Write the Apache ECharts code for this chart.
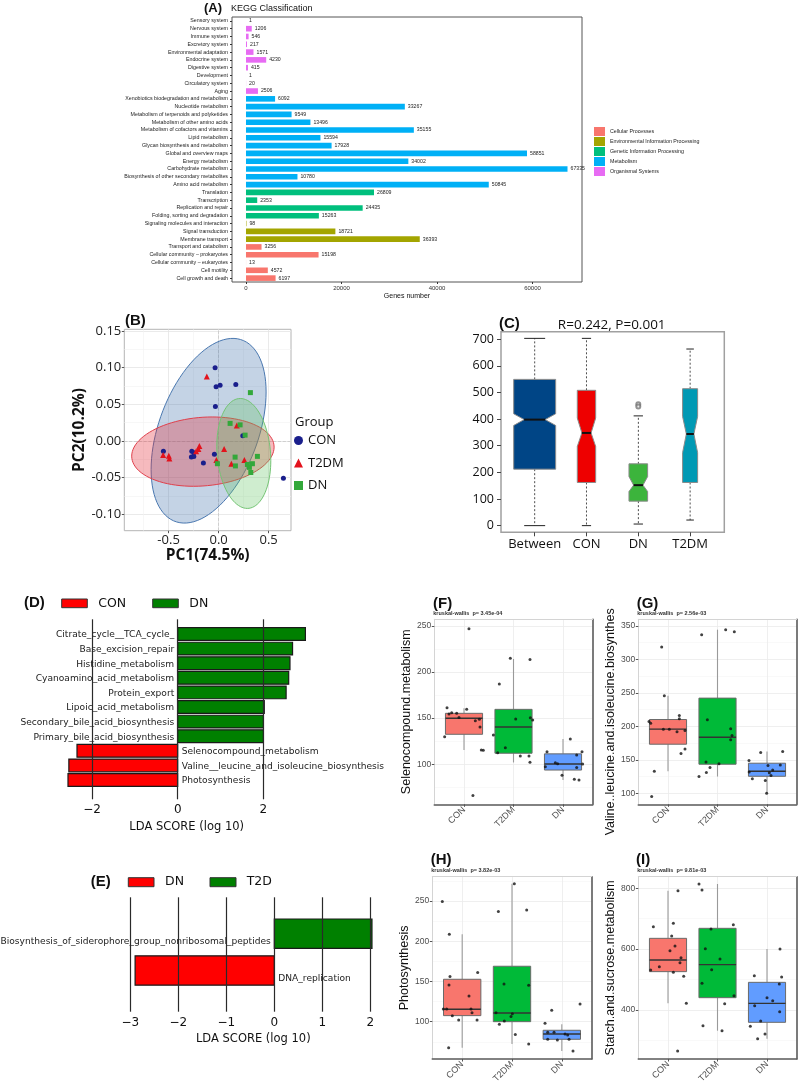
<!DOCTYPE html>
<html><head><meta charset="utf-8">
<script src="https://cdn.jsdelivr.net/npm/echarts@6/dist/echarts.min.js"></script>
<style>html,body{margin:0;padding:0;background:#fff}#chart{width:800px;height:1085px}</style>
</head><body><div id="chart"></div>
<script>
// ======================= DATA =======================
// (A) KEGG classification
const KEGG_CATEGORIES = ['Sensory system','Nervous system','Immune system','Excretory system','Environmental adaptation','Endocrine system','Digestive system','Development','Circulatory system','Aging','Xenobiotics biodegradation and metabolism','Nucleotide metabolism','Metabolism of terpenoids and polyketides','Metabolism of other amino acids','Metabolism of cofactors and vitamins','Lipid metabolism','Glycan biosynthesis and metabolism','Global and overview maps','Energy metabolism','Carbohydrate metabolism','Biosynthesis of other secondary metabolites','Amino acid metabolism','Translation','Transcription','Replication and repair','Folding, sorting and degradation','Signaling molecules and interaction','Signal transduction','Membrane transport','Transport and catabolism','Cellular community \u2013 prokaryotes','Cellular community \u2013 eukaryotes','Cell motility','Cell growth and death'];
const KEGG_VALUES = [1,1206,546,217,1571,4230,415,1,20,2506,6092,33267,9549,13496,35155,15594,17928,58851,34002,67335,10780,50845,26809,2353,24435,15263,98,18721,36393,3256,15198,13,4572,6197];
const KEGG_CLASS = [4,4,4,4,4,4,4,4,4,4,3,3,3,3,3,3,3,3,3,3,3,3,2,2,2,2,1,1,1,0,0,0,0,0];
const KEGG_CLASS_NAMES = ['Cellular Processes','Environmental Information Processing','Genetic Information Processing','Metabolism','Organismal Systems'];
const KEGG_X_TICKS = [0,20000,40000,60000];

// (B) PCoA
const PCA_CON = [[-0.035,0.100],[-0.025,0.074],[0.015,0.076],[0.172,0.077],[-0.032,0.047],[0.242,0.007],[-0.552,-0.014],[-0.268,-0.014],[-0.248,-0.016],[-0.272,-0.022],[-0.248,-0.021],[-0.152,-0.030],[-0.042,-0.018],[0.648,-0.051]];
const PCA_T2DM = [[-0.118,0.088],[-0.555,-0.019],[-0.498,-0.020],[-0.492,-0.024],[-0.192,-0.007],[-0.202,-0.011],[-0.225,-0.014],[0.055,-0.011],[-0.022,-0.026],[0.128,-0.031],[0.258,-0.026],[0.182,0.021]];
const PCA_DN = [[0.318,0.066],[0.115,0.024],[0.215,0.022],[0.265,0.008],[0.165,-0.022],[-0.012,-0.031],[0.168,-0.034],[0.288,-0.032],[0.308,-0.036],[0.338,-0.031],[0.388,-0.021],[0.322,-0.043]];
// ellipse: centre x, centre y, half-extent x, half-extent y, correlation
const PCA_ELLIPSES = [[-0.10,0.014,0.575,0.126,0.42],[-0.157,-0.0145,0.712,0.0473,0.13],[0.252,-0.017,0.270,0.075,-0.13]];
const PCA_X_TICKS = [-0.5,0,0.5];
const PCA_X_MINOR = [-0.75,-0.25,0.25];
const PCA_Y_TICKS = [-0.1,-0.05,0,0.05,0.1,0.15];
const PCA_Y_MINOR = [-0.075,-0.025,0.025,0.075,0.125];

// (C) ANOSIM: low whisker, Q1, median, Q3, high whisker, notch low, notch high
const ANOSIM_GROUPS = ['Between','CON','DN','T2DM'];
const ANOSIM_STATS = [[0,212,398,549,703,376,420],[0,162,348,508,703,297,404],[6,92,152,232,412,128,184],[21,162,344,514,663,274,410]];
const ANOSIM_OUTLIERS = [[3,456],[3,447]];
const ANOSIM_Y_TICKS = [0,100,200,300,400,500,600,700];

// (D) LEfSe CON vs DN
const LDA_D_FEATURES = ['Citrate_cycle__TCA_cycle_','Base_excision_repair','Histidine_metabolism','Cyanoamino_acid_metabolism','Protein_export','Lipoic_acid_metabolism','Secondary_bile_acid_biosynthesis','Primary_bile_acid_biosynthesis','Selenocompound_metabolism','Valine__leucine_and_isoleucine_biosynthesis','Photosynthesis'];
const LDA_D_SCORES = [2.98,2.68,2.62,2.59,2.53,2.02,2.00,2.00,-2.35,-2.54,-2.56];
const LDA_D_TICKS = [-2,0,2];
// (E) LEfSe DN vs T2D
const LDA_E_FEATURES = ['Biosynthesis_of_siderophore_group_nonribosomal_peptides','DNA_replication'];
const LDA_E_SCORES = [2.035,-2.90];
const LDA_E_TICKS = [-3,-2,-1,0,1,2];

// (F)-(I) Kruskal-Wallis boxplots: [low whisker, Q1, median, Q3, high whisker]
const KW_GROUPS = ['CON','T2DM','DN'];
const F_BOX = [[115.5,132.5,149.8,155.2,160.6],[102,112,140.4,159.5,214],[83,93.8,100.3,111.3,127.4]];
const F_PTS_CON = [[1.10,246.8],[0.657,161.3],[0.697,154.4],[0.751,155.9],[0.852,155.2],[0.899,150.8],[1.054,159.5],[1.229,147.2],[1.31,148.7],[1.323,140.4],[1.35,115.5],[1.39,115.1],[0.609,129.9],[1.18,66.1]];
const F_PTS_T2DM = [[1.936,214.7],[2.333,213.6],[1.714,186.9],[1.593,131.7],[1.68,112.6],[1.835,118],[2.044,149],[2.34,150.5],[2.387,148],[2.138,109],[2.313,109],[2.333,102.1]];
const F_PTS_DN = [[2.643,97.4],[3.148,127.4],[2.677,113.7],[2.845,101.8],[2.892,100.7],[2.98,88.1],[3.229,83.7],[3.323,83],[3.384,113.7],[3.276,110],[3.276,96.6],[3.397,100.3]];
const F_Y_TICKS = [100,150,200,250];

const G_BOX = [[132.9,173.3,195.8,210.2,245.7],[125,143.4,183.8,242.2,344.5],[100,125.4,132.9,144.9,162.3]];
const G_PTS_CON = [[0.872,318.5],[0.926,245.7],[0.616,207.2],[0.65,204.7],[0.906,195.8],[1.027,195.8],[1.182,191.8],[1.229,216.2],[1.229,211.2],[1.343,193.8],[1.263,159.3],[1.343,166.3],[0.724,132.9],[0.67,95]];
const G_PTS_T2DM = [[1.68,337],[2.165,344.5],[2.34,341.5],[1.795,209.7],[2.266,196.3],[2.293,186.3],[2.266,179.8],[1.768,146.9],[1.775,130.9],[1.848,138.4],[2.03,144],[1.626,124.9]];
const G_PTS_DN = [[2.636,148.9],[2.872,160.8],[2.64,131.6],[2.704,121.6],[3.02,141.4],[3.047,130.6],[3.115,134.9],[3.081,126.4],[2.966,118.9],[2.993,100],[3.269,142.4],[3.317,162.3]];
const G_Y_TICKS = [100,150,200,250,300,350];

const H_BOX = [[67.7,107.5,115.4,152.7,208.7],[72.3,100,110.8,168.9,271.3],[63.6,78.1,84.7,89.3,96.7]];
const H_PTS_CON = [[0.601,249.3],[0.742,208.7],[0.755,156],[0.735,145.6],[0.621,115.8],[0.689,115.8],[0.802,107.5],[0.93,102.1],[0.728,67.7],[1.137,132],[1.177,115.8],[1.197,111.2],[1.298,102.1],[1.311,161]];
const H_PTS_T2DM = [[1.726,236.9],[2.047,271.3],[2.295,238.9],[1.84,146.9],[2.335,145.2],[1.679,111.2],[2.007,110],[1.98,106.3],[1.746,96.7],[1.846,100.9],[2.067,83.9],[2.335,72.3]];
const H_PTS_DN = [[2.663,98],[2.797,114.1],[2.717,86.8],[2.844,86.8],[2.717,78.1],[2.911,77.3],[3.065,84.7],[3.118,83.5],[3.145,78.1],[3.225,63.6],[3.366,122]];
const H_Y_TICKS = [100,150,200,250];

const I_BOX = [[422,526,564.3,635.5,792],[332,440.5,549,668.4,814],[305.8,359.5,421.9,490.9,600.5]];
const I_PTS_CON = [[0.704,673.9],[1.108,684.8],[1.202,792.2],[1.074,643.2],[1.141,610.3],[1.04,595],[0.65,531.4],[0.825,542.4],[1.263,572],[1.242,555.5],[1.108,523.8],[1.317,510.6],[1.37,421.9],[1.195,265.3]];
const I_PTS_T2DM = [[1.626,814],[1.687,794.3],[1.869,666.2],[1.754,601.5],[1.882,532.5],[1.687,487.6],[2.05,567.6],[2.32,680.4],[2.333,447.1],[2.145,420.8],[1.707,348.5],[2.091,332.1]];
const I_PTS_DN = [[2.744,512.8],[2.663,346.3],[2.751,414.2],[2.811,305.8],[2.872,363.9],[2.96,321.1],[3.0,440.5],[3.115,430.7],[3.249,485.4],[3.256,394.5],[3.296,508.4],[3.263,600.5]];
const I_Y_TICKS = [400,600,800];

// ======================= STYLE =======================
const SANS = 'Liberation Sans';
const OPEN = 'Open Sans';
const DEJA = 'DejaVu Sans';
const KEGG_COLORS = ['#F8766D','#A3A500','#00BF7D','#00B0F6','#E76BF3'];
const PCA_COLORS = ['#1a1f8c','#e3121c','#33a83a'];
const ELL_FILL = ['rgba(60,110,170,0.30)','rgba(228,40,52,0.32)','rgba(95,195,95,0.30)'];
const ELL_STROKE = ['#4a78b0','#e0404c','#74c474'];
const C_COLORS = ['#004586','#ee0000','#3cb43c','#0099b4'];
const C_BOX_W = [0.81,0.355,0.36,0.29];
const KW_COLORS = ['#F8766D','#00BA38','#619CFF'];

const grids = [], xAxes = [], yAxes = [], series = [], graphics = [];
function addGrid(g){ grids.push(Object.assign({containLabel:false, outerBoundsMode:'none'}, g)); return grids.length - 1; }
function txt(t, x, y, font, extra){ graphics.push(Object.assign({type:'text', x:x, y:y, silent:true, style:{text:t, font:font, fill:'#111', align:'left', verticalAlign:'middle', textAlign:'left', textVerticalAlign:'middle'}}, extra||{})); }

// ======================= (A) =======================
const gA = addGrid({left:232, top:17, width:350, height:265, show:true, borderColor:'#555', borderWidth:1, backgroundColor:'transparent'});
const xA = xAxes.length;
xAxes.push({type:'value', gridIndex:gA, min:-2930, max:70370,
  axisLine:{show:false, onZero:false}, splitLine:{show:false},
  axisTick:{show:true, customValues:KEGG_X_TICKS, length:2, lineStyle:{color:'#333'}},
  axisLabel:{customValues:KEGG_X_TICKS, formatter:function(v){return String(v);}, fontSize:6, color:'#333', margin:3, fontFamily:SANS},
  name:'Genes number', nameLocation:'middle', nameGap:11, nameTextStyle:{fontSize:7, color:'#111', fontFamily:SANS}});
const yA = yAxes.length;
yAxes.push({type:'category', gridIndex:gA, data:KEGG_CATEGORIES, inverse:true,
  axisLine:{show:false, onZero:false}, splitLine:{show:false},
  axisTick:{show:true, length:2, alignWithLabel:true, lineStyle:{color:'#333'}},
  axisLabel:{interval:0, fontSize:5.3, color:'#222', margin:4, fontFamily:SANS}});
KEGG_CLASS_NAMES.forEach(function(name, c){
  series.push({type:'bar', name:name, xAxisIndex:xA, yAxisIndex:yA, stack:'kegg', barWidth:'72%',
    itemStyle:{color:KEGG_COLORS[c]},
    label:{show:true, position:'right', distance:3, fontSize:5.2, color:'#222', fontFamily:SANS, formatter:function(p){return p.value==null?'':String(p.value);}},
    data:KEGG_VALUES.map(function(v,i){return KEGG_CLASS[i]===c ? v : null;})});
});
txt('(A)', 204, 8.5, 'bold 13px ' + SANS);
txt('KEGG Classification', 231, 8.5, '9px ' + SANS);

// ======================= (B) =======================
const gB = addGrid({left:124.3, top:329.3, width:166.7, height:201.4, show:true, borderColor:'#b4b4b4', borderWidth:1, backgroundColor:'transparent'});
const xB = xAxes.length;
xAxes.push({type:'value', gridIndex:gB, min:-0.943, max:0.724, position:'bottom',
  axisLine:{show:false, onZero:false},
  axisTick:{show:true, customValues:PCA_X_TICKS, length:2.5, lineStyle:{color:'#555'}},
  axisLabel:{customValues:PCA_X_TICKS, formatter:function(v){return v.toFixed(1);}, fontSize:13, color:'#222', margin:3, fontFamily:OPEN},
  splitLine:{show:true, lineStyle:{color:'#e4e4e4', width:0.8}},
  name:'PC1(74.5%)', nameLocation:'middle', nameGap:16.5, nameTextStyle:{fontSize:15.5, fontWeight:'bold', color:'#111', fontFamily:OPEN}});
xAxes.push({type:'value', gridIndex:gB, min:-0.943, max:0.724, position:'top',
  axisLine:{show:false, onZero:false}, axisTick:{show:false, customValues:PCA_X_MINOR}, axisLabel:{show:false, customValues:PCA_X_MINOR},
  splitLine:{show:true, lineStyle:{color:'#f2f2f2', width:0.6}}});
const yB = yAxes.length;
yAxes.push({type:'value', gridIndex:gB, min:-0.1224, max:0.1524, position:'left',
  axisLine:{show:false, onZero:false},
  axisTick:{show:true, customValues:PCA_Y_TICKS, length:2.5, lineStyle:{color:'#555'}},
  axisLabel:{customValues:PCA_Y_TICKS, formatter:function(v){return v.toFixed(2);}, fontSize:13, color:'#222', margin:3, fontFamily:OPEN},
  splitLine:{show:true, lineStyle:{color:'#e4e4e4', width:0.8}},
  name:'PC2(10.2%)', nameLocation:'middle', nameGap:33, nameTextStyle:{fontSize:15.5, fontWeight:'bold', color:'#111', fontFamily:OPEN}});
yAxes.push({type:'value', gridIndex:gB, min:-0.1224, max:0.1524, position:'right',
  axisLine:{show:false, onZero:false}, axisTick:{show:false, customValues:PCA_Y_MINOR}, axisLabel:{show:false, customValues:PCA_Y_MINOR},
  splitLine:{show:true, lineStyle:{color:'#f2f2f2', width:0.6}}});
series.push({type:'custom', name:'ellipses', xAxisIndex:xB, yAxisIndex:yB, z:2, silent:true,
  data:PCA_ELLIPSES,
  renderItem:function(params, api){
    const cx=api.value(0), cy=api.value(1), rx=api.value(2), ry=api.value(3), rho=api.value(4);
    const s = Math.sqrt(1 - rho*rho), pts = [];
    for (let k = 0; k < 96; k++) {
      const t = k / 96 * 2 * Math.PI;
      pts.push(api.coord([cx + rx*Math.cos(t), cy + ry*(rho*Math.cos(t) + s*Math.sin(t))]));
    }
    return {type:'polygon', shape:{points:pts}, style:{fill:ELL_FILL[params.dataIndex], stroke:ELL_STROKE[params.dataIndex], lineWidth:1}};
  }});
const PCA_SERIES = [['CON',PCA_CON,'circle',5],['T2DM',PCA_T2DM,'triangle',6],['DN',PCA_DN,'rect',5]];
PCA_SERIES.forEach(function(s, i){
  const obj = {type:'scatter', name:s[0], xAxisIndex:xB, yAxisIndex:yB, z:4, symbol:s[2], symbolSize:s[3],
    itemStyle:{color:PCA_COLORS[i], opacity:1}, data:s[1]};
  if (i === 0) obj.markLine = {silent:true, symbol:['none','none'], label:{show:false}, z:1,
    lineStyle:{color:'#c8c8c8', type:'dashed', width:0.8}, data:[{xAxis:0},{yAxis:0}]};
  series.push(obj);
});
txt('(B)', 125, 320.7, 'bold 15px ' + SANS);
txt('Group', 295, 422.7, '13px ' + OPEN);

// ======================= (C) =======================
const gC = addGrid({left:501, top:331.7, width:223.3, height:200.6, show:true, borderColor:'#a0a0a0', borderWidth:1.5, backgroundColor:'transparent'});
const xC = xAxes.length;
xAxes.push({type:'value', gridIndex:gC, min:0.35, max:4.66,
  axisLine:{show:false, onZero:false}, splitLine:{show:false},
  axisTick:{show:true, customValues:[1,2,3,4], length:4, lineStyle:{color:'#444'}},
  axisLabel:{customValues:[1,2,3,4], formatter:function(v){return ANOSIM_GROUPS[Math.round(v)-1];}, fontSize:13, color:'#111', margin:5, fontFamily:OPEN}});
const yC = yAxes.length;
yAxes.push({type:'value', gridIndex:gC, min:-25, max:728,
  axisLine:{show:false, onZero:false}, splitLine:{show:false},
  axisTick:{show:true, customValues:ANOSIM_Y_TICKS, length:4, lineStyle:{color:'#444'}},
  axisLabel:{customValues:ANOSIM_Y_TICKS, fontSize:12.5, color:'#111', margin:7, fontFamily:OPEN}});
series.push({type:'custom', name:'ANOSIM', xAxisIndex:xC, yAxisIndex:yC, z:3, silent:true,
  data:ANOSIM_STATS.map(function(s,i){return [i+1].concat(s);}),
  renderItem:function(params, api){
    const i = params.dataIndex;
    const pos=api.value(0), lo=api.value(1), q1=api.value(2), med=api.value(3), q3=api.value(4), hi=api.value(5), nlo=api.value(6), nhi=api.value(7);
    const w = C_BOX_W[i], L=pos-w/2, R=pos+w/2, Li=pos-w/4, Ri=pos+w/4;
    const P = function(x,y){return api.coord([x,y]);};
    const ln = function(a,b,style){return {type:'line', shape:{x1:a[0],y1:a[1],x2:b[0],y2:b[1]}, style:style};};
    const dash = {stroke:'#222', lineWidth:0.8, lineDash:[2,2]};
    const solid = {stroke:'#222', lineWidth:1};
    return {type:'group', children:[
      ln(P(pos,q3),P(pos,hi),dash), ln(P(pos,q1),P(pos,lo),dash),
      ln(P(pos-w/4,hi),P(pos+w/4,hi),solid), ln(P(pos-w/4,lo),P(pos+w/4,lo),solid),
      {type:'polygon', shape:{points:[P(L,q1),P(R,q1),P(R,nlo),P(Ri,med),P(R,nhi),P(R,q3),P(L,q3),P(L,nhi),P(Li,med),P(L,nlo)]}, style:{fill:C_COLORS[i], stroke:'#8a8a8a', lineWidth:1}},
      ln(P(Li,med),P(Ri,med),{stroke:'#111', lineWidth:2})
    ]};
  }});
series.push({type:'scatter', name:'ANOSIM outliers', xAxisIndex:xC, yAxisIndex:yC, z:4, symbol:'emptyCircle', symbolSize:4,
  itemStyle:{color:'#777', borderWidth:0.8}, data:ANOSIM_OUTLIERS});
txt('(C)', 499, 324, 'bold 15px ' + SANS);
txt('R=0.242, P=0.001', 611.7, 325, '13.5px ' + OPEN, {style:{text:'R=0.242, P=0.001', font:'13.5px ' + OPEN, fill:'#111', align:'center', verticalAlign:'middle', textAlign:'center', textVerticalAlign:'middle'}});

// ======================= (D) & (E) LEfSe =======================
function ldaPanel(cfg){
  const g = addGrid({left:cfg.left, top:cfg.top, width:cfg.width, height:cfg.height});
  const xi = xAxes.length;
  xAxes.push({type:'value', gridIndex:g, min:cfg.xmin, max:cfg.xmax,
    axisLine:{show:false, onZero:false}, axisTick:{show:false, customValues:cfg.ticks}, splitLine:{show:false},
    axisLabel:{customValues:cfg.ticks, formatter:function(v){return v<0 ? '\u2212'+(-v) : String(v);}, fontSize:12, color:'#111', margin:5, fontFamily:DEJA},
    name:'LDA SCORE (log 10)', nameLocation:'middle', nameGap:21.5, nameTextStyle:{fontSize:11.5, color:'#111', fontFamily:DEJA}});
  const yi = yAxes.length;
  yAxes.push({type:'value', gridIndex:g, min:cfg.ymin, max:cfg.ymax, inverse:true, show:false, splitLine:{show:false}});
  const render = function(color){
    return function(params, api){
      const score=api.value(0), idx=api.value(1);
      const p0=api.coord([0,idx]), p1=api.coord([score,idx]);
      const h=Math.abs(api.size([0,cfg.barH])[1]);
      const positive = score > 0;
      return {type:'group', children:[
        {type:'rect', shape:{x:Math.min(p0[0],p1[0]), y:p0[1]-h/2, width:Math.abs(p1[0]-p0[0]), height:h}, style:{fill:color, stroke:'#1a1a1a', lineWidth:1.2}},
        {type:'text', x:positive ? p0[0]-3.5 : p0[0]+4, y:p0[1]+cfg.labelDy,
          style:{text:cfg.features[idx], font:'9.1px ' + DEJA, fill:'#222', align:positive?'right':'left', verticalAlign:'middle', textAlign:positive?'right':'left', textVerticalAlign:'middle'}}
      ]};
    };
  };
  const neg = [], pos = [];
  cfg.scores.forEach(function(s,i){ (s<0?neg:pos).push([s,i]); });
  series.push({type:'custom', name:cfg.names[0], xAxisIndex:xi, yAxisIndex:yi, z:3, silent:true, itemStyle:{color:'#ff0000'}, data:neg, renderItem:render('#ff0000')});
  series.push({type:'custom', name:cfg.names[1], xAxisIndex:xi, yAxisIndex:yi, z:3, silent:true, itemStyle:{color:'#008000'}, data:pos, renderItem:render('#008000'),
    markLine:{silent:true, symbol:['none','none'], label:{show:false}, z:10, lineStyle:{color:'#2a2a2a', type:'solid', width:1.2},
      data:cfg.ticks.map(function(v){return {xAxis:v};})}});
}
ldaPanel({left:50, top:619.3, width:273.4, height:180, xmin:-2.98, xmax:3.40, ymin:-1.007, ymax:11.32, barH:0.87, labelDy:1,
  ticks:LDA_D_TICKS, features:LDA_D_FEATURES, scores:LDA_D_SCORES, names:['LEfSe CON','LEfSe DN']});
ldaPanel({left:110, top:897.3, width:286.6, height:114.4, xmin:-3.423, xmax:2.548, ymin:-0.99, ymax:2.12, barH:0.8, labelDy:8,
  ticks:LDA_E_TICKS, features:LDA_E_FEATURES, scores:LDA_E_SCORES, names:['LEfSe DN (E)','LEfSe T2D']});
txt('(D)', 24, 603.3, 'bold 15px ' + SANS);
graphics.push({type:'rect', shape:{x:61.7, y:599, width:25.6, height:8.7}, style:{fill:'#ff0000', stroke:'#333', lineWidth:1}, silent:true});
txt('CON', 98.3, 603.3, '12.5px ' + DEJA);
graphics.push({type:'rect', shape:{x:152.7, y:599, width:25.6, height:8.7}, style:{fill:'#008000', stroke:'#333', lineWidth:1}, silent:true});
txt('DN', 189.3, 603.3, '12.5px ' + DEJA);
txt('(E)', 90.7, 881.7, 'bold 15px ' + SANS);
graphics.push({type:'rect', shape:{x:128.3, y:877.7, width:25.7, height:9}, style:{fill:'#ff0000', stroke:'#333', lineWidth:1}, silent:true});
txt('DN', 165, 882, '12.5px ' + DEJA);
graphics.push({type:'rect', shape:{x:210, y:877.7, width:26, height:9}, style:{fill:'#008000', stroke:'#333', lineWidth:1}, silent:true});
txt('T2D', 246.7, 882, '12.5px ' + DEJA);

// ======================= (F)-(I) =======================
function ggPanel(cfg){
  const g = addGrid({left:cfg.left, top:cfg.top, width:cfg.width, height:cfg.height});
  const xi = xAxes.length;
  xAxes.push({type:'value', gridIndex:g, min:0.4, max:3.6, position:'bottom',
    axisLine:{show:true, onZero:false, lineStyle:{color:'#5a5a5a', width:1.6}},
    axisTick:{show:true, customValues:[1,2,3], length:2.5, lineStyle:{color:'#555'}},
    axisLabel:{customValues:[1,2,3], formatter:function(v){return KW_GROUPS[Math.round(v)-1];}, rotate:45, fontSize:9, color:'#4d4d4d', margin:4, fontFamily:SANS},
    splitLine:{show:true, lineStyle:{color:'#ebebeb', width:0.8}}});
  xAxes.push({type:'value', gridIndex:g, min:0.4, max:3.6, position:'top',
    axisLine:{show:true, onZero:false, lineStyle:{color:'#d4d4d4', width:1}}, axisTick:{show:false}, axisLabel:{show:false}, splitLine:{show:false}});
  const yi = yAxes.length;
  yAxes.push({type:'value', gridIndex:g, min:cfg.ymin, max:cfg.ymax, position:'left',
    axisLine:{show:true, onZero:false, lineStyle:{color:'#d4d4d4', width:1}},
    axisTick:{show:true, customValues:cfg.ticks, length:2.5, lineStyle:{color:'#555'}},
    axisLabel:{customValues:cfg.ticks, fontSize:8.5, color:'#4d4d4d', margin:3, fontFamily:SANS},
    splitLine:{show:true, lineStyle:{color:'#ebebeb', width:0.8}},
    name:cfg.yname, nameLocation:'middle', nameGap:cfg.nameGap, nameTextStyle:{fontSize:12.5, color:'#111', fontFamily:SANS, padding:cfg.namePad||0}});
  yAxes.push({type:'value', gridIndex:g, min:cfg.ymin, max:cfg.ymax, position:'right',
    axisLine:{show:true, onZero:false, lineStyle:{color:'#5a5a5a', width:1.6}},
    axisTick:{show:false, customValues:cfg.minor}, axisLabel:{show:false, customValues:cfg.minor},
    splitLine:{show:true, lineStyle:{color:'#f5f5f5', width:0.6}}});
  series.push({type:'custom', name:cfg.id + ' boxes', xAxisIndex:xi, yAxisIndex:yi, z:3, silent:true,
    data:cfg.box.map(function(b,i){return [i+1].concat(b);}),
    renderItem:function(params, api){
      const pos=api.value(0), lo=api.value(1), q1=api.value(2), med=api.value(3), q3=api.value(4), hi=api.value(5);
      const w=0.75, a=api.coord([pos-w/2,q3]), b=api.coord([pos+w/2,q1]);
      const P=function(x,y){return api.coord([x,y]);};
      const ln=function(p,q,st){return {type:'line', shape:{x1:p[0],y1:p[1],x2:q[0],y2:q[1]}, style:st};};
      const wh={stroke:'#9a9a9a', lineWidth:1.1};
      return {type:'group', children:[
        ln(P(pos,q3),P(pos,hi),wh), ln(P(pos,q1),P(pos,lo),wh),
        {type:'rect', shape:{x:a[0], y:a[1], width:b[0]-a[0], height:b[1]-a[1]}, style:{fill:KW_COLORS[params.dataIndex], stroke:'#6a6a6a', lineWidth:1}},
        ln(P(pos-w/2,med),P(pos+w/2,med),{stroke:'#333', lineWidth:1.4})
      ]};
    }});
  series.push({type:'scatter', name:cfg.id + ' samples', xAxisIndex:xi, yAxisIndex:yi, z:5, silent:true, symbol:'circle', symbolSize:3,
    itemStyle:{color:'#111'}, data:cfg.pts[0].concat(cfg.pts[1], cfg.pts[2])});
  txt(cfg.letter, cfg.lx, cfg.ly, 'bold 15px ' + SANS);
  txt(cfg.kw, cfg.left - 1, cfg.top - 6, 'bold 5.5px ' + SANS, {style:{text:cfg.kw, font:'bold 5.5px ' + SANS, fill:'#333', align:'left', verticalAlign:'middle', textAlign:'left', textVerticalAlign:'middle'}});
}
ggPanel({id:'F', left:434.3, top:619.3, width:158.4, height:185, ymin:56.7, ymax:257, ticks:F_Y_TICKS, minor:[75,125,175,225],
  box:F_BOX, pts:[F_PTS_CON,F_PTS_T2DM,F_PTS_DN], yname:'Selenocompound.metabolism', nameGap:15.5,
  letter:'(F)', lx:433, ly:604.3, kw:'kruskal-wallis  p= 3.45e-04'});
ggPanel({id:'G', left:638.3, top:619.3, width:158.4, height:185, ymin:83.5, ymax:360, ticks:G_Y_TICKS, minor:[125,175,225,275,325],
  box:G_BOX, pts:[G_PTS_CON,G_PTS_T2DM,G_PTS_DN], yname:'Valine..leucine.and.isoleucine.biosynthes', nameGap:13, namePad:[0,20,0,0],
  letter:'(G)', lx:636.7, ly:604.3, kw:'kruskal-wallis  p= 2.56e-03'});
ggPanel({id:'H', left:432.3, top:876.7, width:159.4, height:182.3, ymin:53.6, ymax:280.2, ticks:H_Y_TICKS, minor:[75,125,175,225,275],
  box:H_BOX, pts:[H_PTS_CON,H_PTS_T2DM,H_PTS_DN], yname:'Photosynthesis', nameGap:15.3,
  letter:'(H)', lx:430.7, ly:860, kw:'kruskal-wallis  p= 3.82e-03'});
ggPanel({id:'I', left:638.3, top:876.7, width:158.4, height:182.3, ymin:239, ymax:838, ticks:I_Y_TICKS, minor:[300,500,700],
  box:I_BOX, pts:[I_PTS_CON,I_PTS_T2DM,I_PTS_DN], yname:'Starch.and.sucrose.metabolism', nameGap:14.6,
  letter:'(I)', lx:636, ly:860, kw:'kruskal-wallis  p= 9.81e-03'});

// ======================= OPTION =======================
const option = {
  animation:false, backgroundColor:'#ffffff',
  grid:grids, xAxis:xAxes, yAxis:yAxes, series:series,
  legend:[
    {data:KEGG_CLASS_NAMES, orient:'vertical', left:594, top:127, padding:0, itemWidth:11, itemHeight:9, itemGap:1, icon:'rect', selectedMode:false,
      textStyle:{fontSize:5.3, color:'#222', fontFamily:SANS, lineHeight:9}},
    {data:['CON','T2DM','DN'], orient:'vertical', left:294, top:434, padding:0, itemWidth:9, itemHeight:9, itemGap:9.5, selectedMode:false,
      textStyle:{fontSize:13, color:'#111', fontFamily:OPEN, lineHeight:9}}
  ],
  graphic:{elements:graphics}
};
const chart = echarts.init(document.getElementById('chart'), null, {renderer:'canvas'});
chart.setOption(option);
</script></body></html>
